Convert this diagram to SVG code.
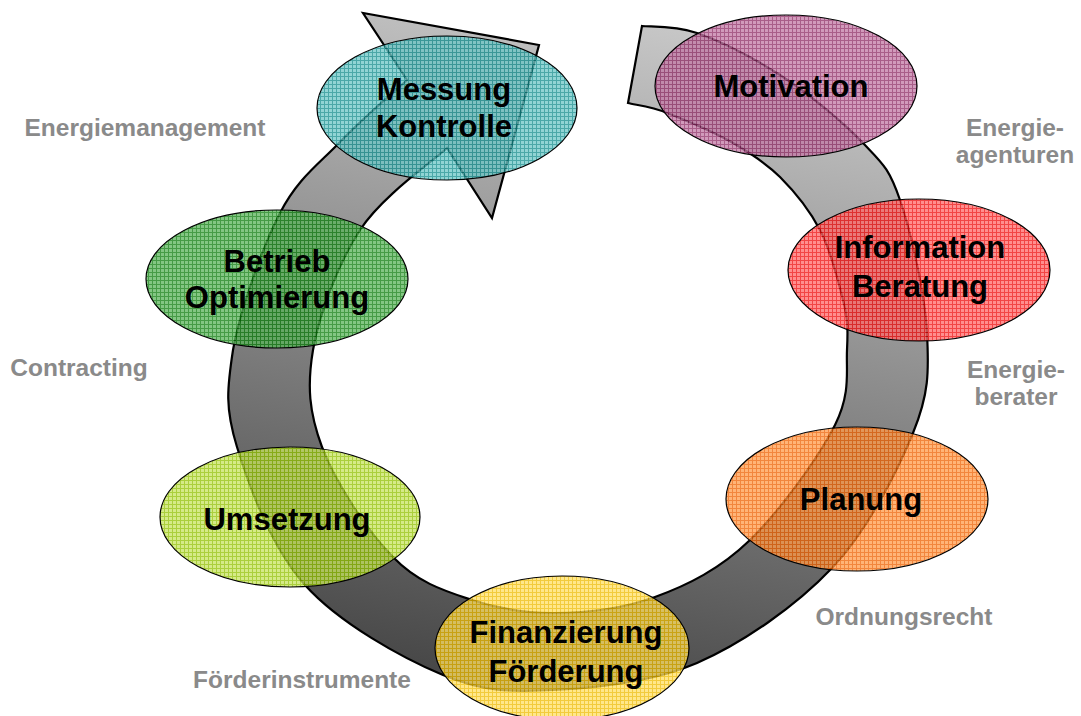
<svg xmlns="http://www.w3.org/2000/svg" width="1081" height="716" viewBox="0 0 1081 716">
<style>
.node ellipse{stroke:#000;stroke-width:1.2;fill-opacity:0.76}
.lbl{font-family:"Liberation Sans",Arial,sans-serif;font-weight:bold;font-size:31px;fill:#000;text-anchor:middle}
.side{font-family:"Liberation Sans",Arial,sans-serif;font-weight:bold;font-size:24.5px;fill:#8a8a8a;text-anchor:middle}
.ring{stroke:#000;stroke-width:2.2;stroke-linejoin:miter}
</style>
<defs>
<linearGradient id="ringGrad" gradientUnits="userSpaceOnUse" x1="620" y1="20" x2="480" y2="700">
<stop offset="0" stop-color="#c6c6c6"/>
<stop offset="1" stop-color="#444"/>
</linearGradient>
<pattern id="pTeal" width="4" height="4" patternUnits="userSpaceOnUse"><rect width="4" height="4" fill="#6ec6c6"/><path d="M0 0.5H4M0.5 0V4" stroke="#138c8c" stroke-width="1"/></pattern>
<pattern id="pMag" width="4" height="4" patternUnits="userSpaceOnUse"><rect width="4" height="4" fill="#c27aa6"/><path d="M0 0.5H4M0.5 0V4" stroke="#8e2c64" stroke-width="1"/></pattern>
<pattern id="pRed" width="4" height="4" patternUnits="userSpaceOnUse"><rect width="4" height="4" fill="#ff6a6a"/><path d="M0 0.5H4M0.5 0V4" stroke="#ee0a0a" stroke-width="1"/></pattern>
<pattern id="pOra" width="4" height="4" patternUnits="userSpaceOnUse"><rect width="4" height="4" fill="#ff9c4c"/><path d="M0 0.5H4M0.5 0V4" stroke="#ee6000" stroke-width="1"/></pattern>
<pattern id="pYel" width="4" height="4" patternUnits="userSpaceOnUse"><rect width="4" height="4" fill="#ffe066"/><path d="M0 0.5H4M0.5 0V4" stroke="#eebb00" stroke-width="1"/></pattern>
<pattern id="pLime" width="4" height="4" patternUnits="userSpaceOnUse"><rect width="4" height="4" fill="#c8e462"/><path d="M0 0.5H4M0.5 0V4" stroke="#90c000" stroke-width="1"/></pattern>
<pattern id="pGrn" width="4" height="4" patternUnits="userSpaceOnUse"><rect width="4" height="4" fill="#5cb45c"/><path d="M0 0.5H4M0.5 0V4" stroke="#0c7c0c" stroke-width="1"/></pattern>
</defs>
<rect width="1081" height="716" fill="#fff"/>
<g id="connectors">
<path id="cycle-arrow" class="ring" fill="url(#ringGrad)" d="M642,26 C651,27 674,25 697,33 C720,41 752,57 780,75 C808,93 843,122 863,143 C883,164 889,168 900,200 C911,232 925,294 927,333 C929,372 929,394 913,433 C897,472 868,530 832,568 C796,606 743,643 697,663 C651,683 595,688 553,690 C511,692 484,692 443,675 C402,658 339,623 305,585 C271,547 249,486 237,447 C225,408 227,389 233,350 C240,311 262,248 280,213 C298,178 319,164 340,142 C361,120 396,90 407,80 L363,13 L539,45 L492,218 L447,148 C432,162 382,196 360,230 C338,264 319,314 313,350 C307,386 309,412 322,447 C335,482 368,532 393,557 C418,583 445,591 472,600 C499,609 523,613 553,613 C584,613 622,609 655,597 C688,585 720,569 750,540 C780,511 819,457 835,425 C851,393 846,371 847,350 C848,329 848,320 843,300 C838,280 831,251 820,230 C809,209 795,192 780,177 C766,163 752,154 733,143 C714,132 685,120 667,113 C651,106 635,105 628,103 Z"/>
</g>
<g id="node-messung" class="node"><ellipse cx="447" cy="108" rx="130" ry="72" fill="url(#pTeal)"/><text class="lbl" x="444" y="100">Messung</text><text class="lbl" x="444" y="137">Kontrolle</text></g>
<g id="node-motivation" class="node"><ellipse cx="786" cy="86" rx="131" ry="71" fill="url(#pMag)"/><text class="lbl" x="791" y="97">Motivation</text></g>
<g id="node-information" class="node"><ellipse cx="919" cy="270" rx="131" ry="71" fill="url(#pRed)"/><text class="lbl" x="920" y="258">Information</text><text class="lbl" x="920" y="297">Beratung</text></g>
<g id="node-planung" class="node"><ellipse cx="857" cy="499" rx="131" ry="72" fill="url(#pOra)"/><text class="lbl" x="861" y="510">Planung</text></g>
<g id="node-finanzierung" class="node"><ellipse cx="562" cy="648" rx="127" ry="72" fill="url(#pYel)"/><text class="lbl" x="566" y="643">Finanzierung</text><text class="lbl" x="566" y="682">Förderung</text></g>
<g id="node-umsetzung" class="node"><ellipse cx="290" cy="517" rx="130" ry="70" fill="url(#pLime)"/><text class="lbl" x="287" y="530">Umsetzung</text></g>
<g id="node-betrieb" class="node"><ellipse cx="277" cy="279" rx="131" ry="69" fill="url(#pGrn)"/><text class="lbl" x="277" y="272">Betrieb</text><text class="lbl" x="277" y="308">Optimierung</text></g>
<g id="side-labels">
<text class="side" x="145" y="136">Energiemanagement</text>
<text class="side" x="1015" y="136">Energie-</text>
<text class="side" x="1015" y="163">agenturen</text>
<text class="side" x="79" y="376">Contracting</text>
<text class="side" x="1016" y="378">Energie-</text>
<text class="side" x="1016" y="405">berater</text>
<text class="side" x="904" y="625">Ordnungsrecht</text>
<text class="side" x="302" y="688">Förderinstrumente</text>
</g>
</svg>
